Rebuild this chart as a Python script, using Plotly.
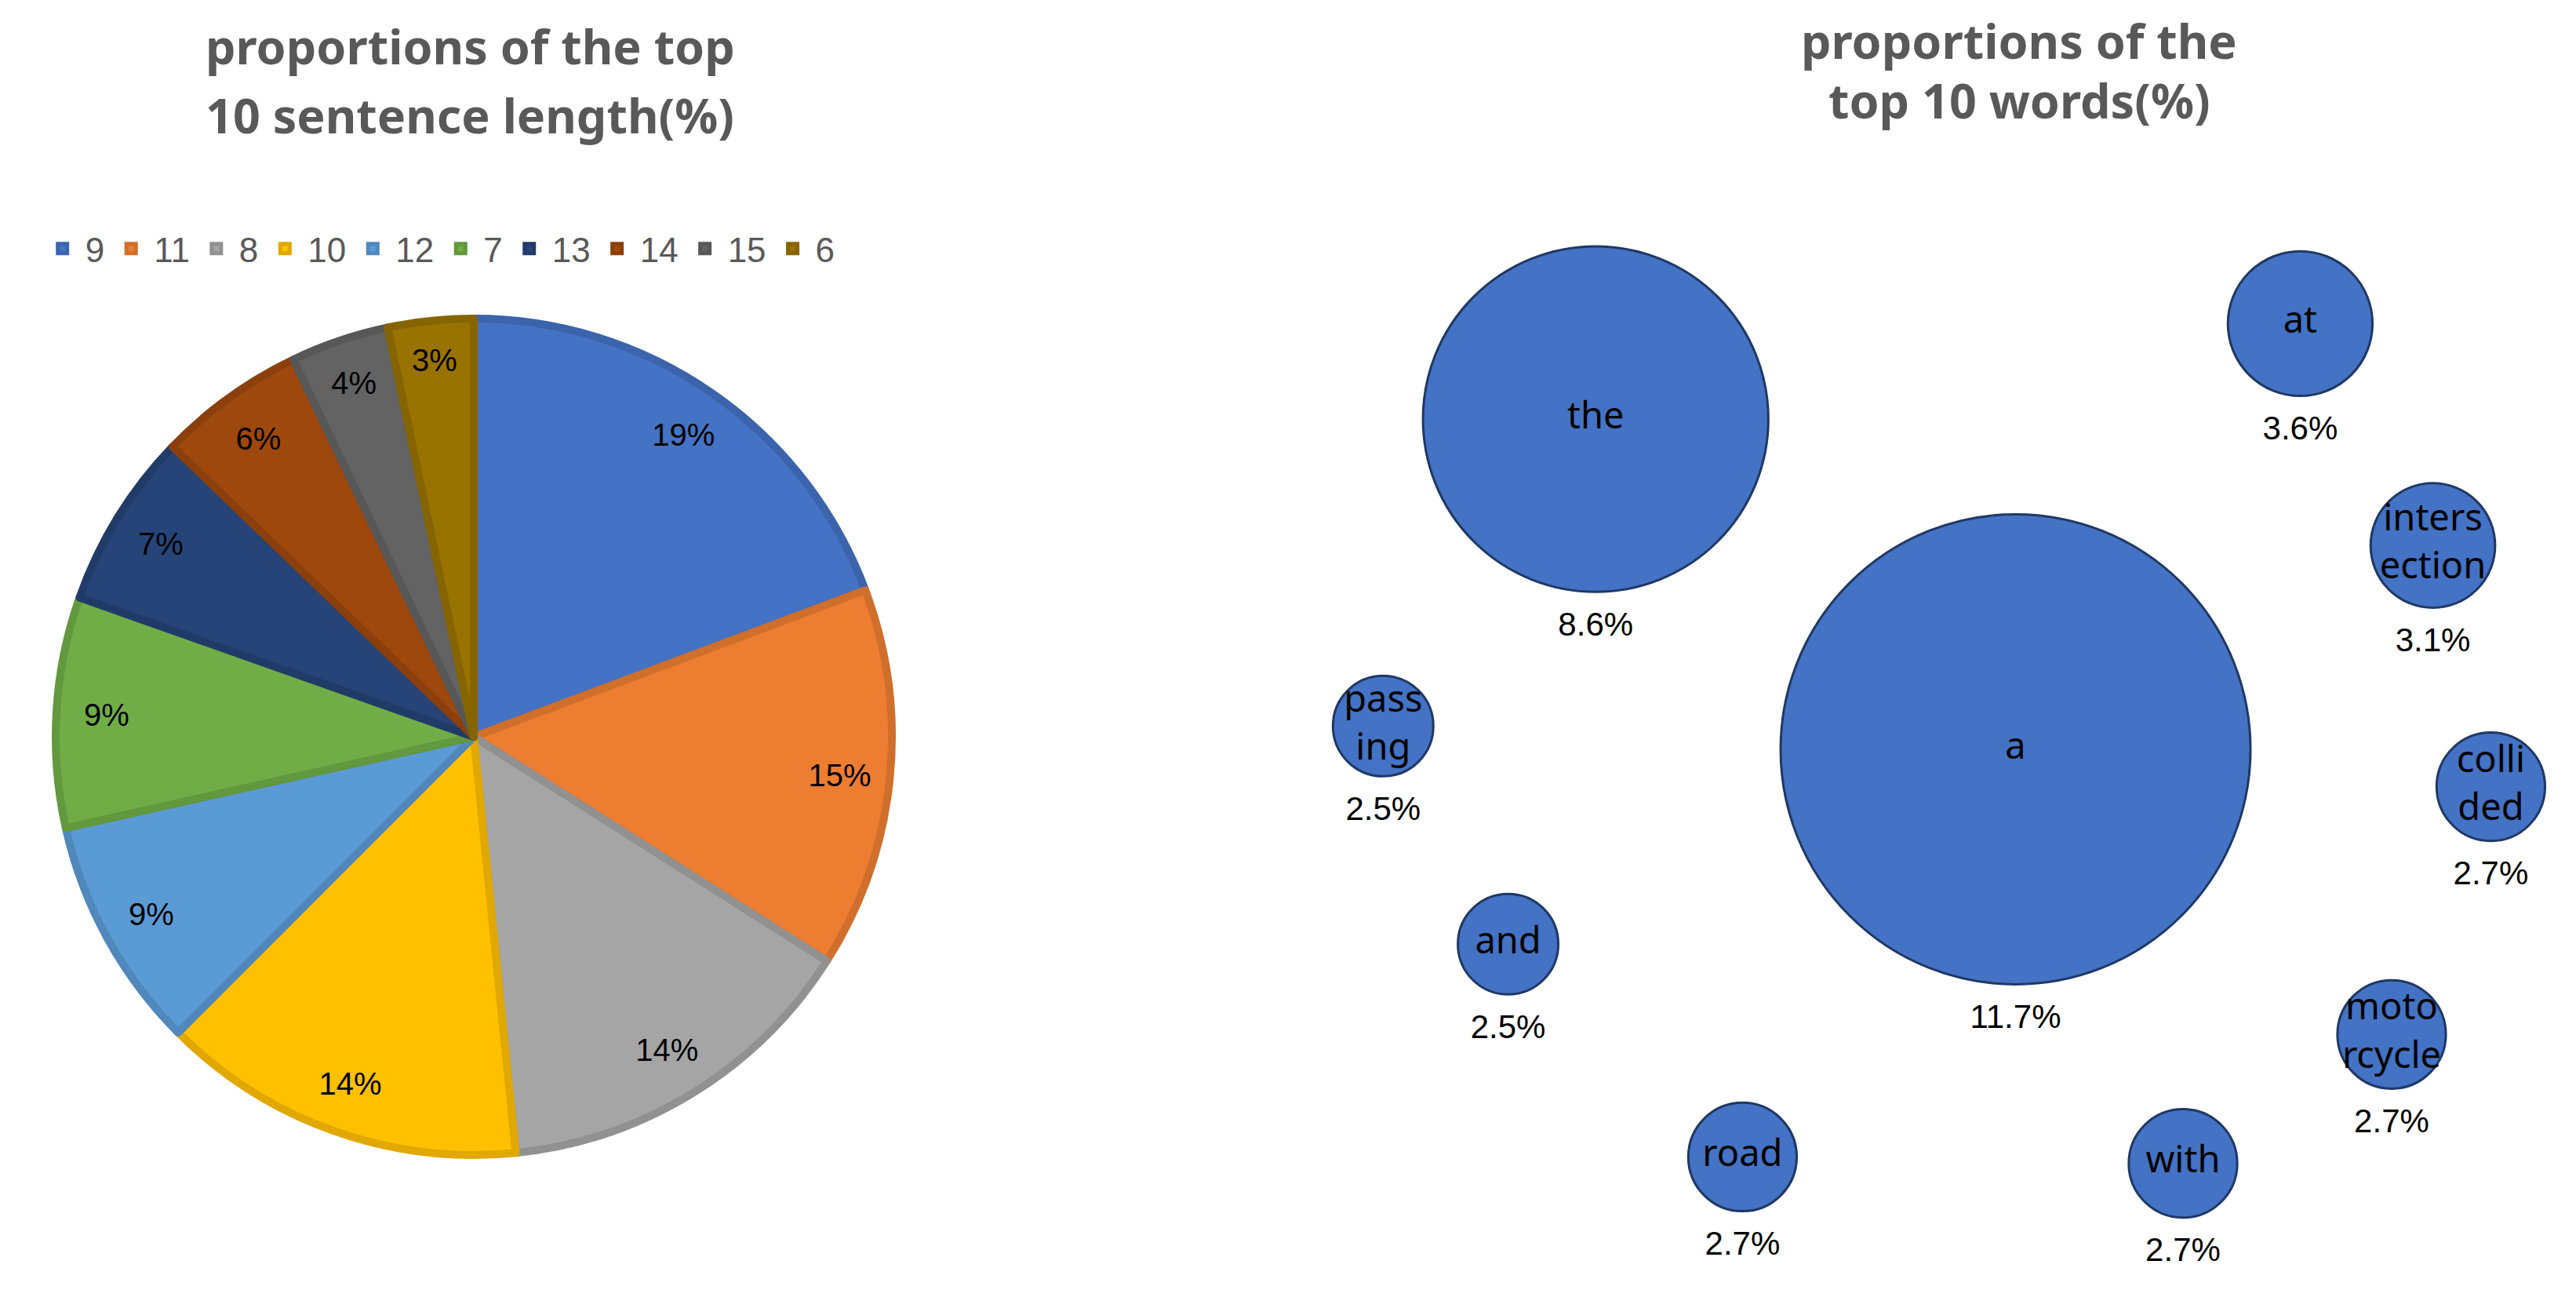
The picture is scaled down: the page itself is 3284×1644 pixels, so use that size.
import plotly.graph_objects as go

# sentence length shares (%)
len_labels = ["9", "11", "8", "10", "12", "7", "13", "14", "15", "6"]
len_share = [19.3, 14.7, 14.4, 14.1, 9.0, 8.9, 6.8, 5.7, 3.8, 3.3]
len_colors = ["#4472C4", "#ED7D31", "#A5A5A5", "#FFC000", "#5B9BD5",
              "#70AD47", "#264478", "#9E480E", "#636363", "#997300"]

# top words (%) and where the bubbles sit
words = ["the", "a", "at", "intersection", "collided", "motorcycle",
         "with", "road", "and", "passing"]
word_text = ["the", "a", "at", "inters<br>ection", "colli<br>ded", "moto<br>rcycle",
             "with", "road", "and", "pass<br>ing"]
word_share = [8.6, 11.7, 3.6, 3.1, 2.7, 2.7, 2.7, 2.7, 2.5, 2.5]
bub_x = [2.34, 5.60, 7.81, 8.84, 9.29, 8.52, 6.90, 3.48, 1.66, 0.69]
bub_y = [6.80, 4.24, 7.54, 5.82, 3.95, 2.03, 1.03, 1.08, 2.73, 4.42]


def darker(hx, f=0.88):
    r, g, b = int(hx[1:3], 16), int(hx[3:5], 16), int(hx[5:7], 16)
    return "#%02x%02x%02x" % (int(r * f), int(g * f), int(b * f))


W, H = 3284, 1644
pie_dom = dict(x=[63 / W, 1129 / W], y=[180 / H, 1246 / H])

fig = go.Figure()

# the slices
fig.add_trace(go.Pie(
    labels=len_labels, values=len_share, sort=False, direction="clockwise",
    marker=dict(colors=len_colors,
                line=dict(color=[darker(c) for c in len_colors], width=10)),
    textinfo="none", domain=pie_dom, hoverinfo="label+percent",
))
# transparent ring on top, only to push the % labels out toward the rim
fig.add_trace(go.Pie(
    labels=len_labels, values=len_share, sort=False, direction="clockwise",
    hole=0.76, marker=dict(colors=["rgba(0,0,0,0)"] * len(len_labels),
                           line=dict(width=0)),
    texttemplate="%{percent:.0%}", textposition="inside",
    insidetextorientation="horizontal",
    textfont=dict(family="Liberation Sans", size=40, color="black"),
    domain=pie_dom, showlegend=False, hoverinfo="skip",
))

sizeref = 11.7 / 599
fig.add_trace(go.Scatter(
    x=bub_x, y=bub_y, mode="markers",
    marker=dict(size=word_share, sizemode="diameter", sizeref=sizeref,
                color="#4472C4", line=dict(color="#1F3864", width=3), opacity=1),
    showlegend=False, cliponaxis=False, hovertext=words,
    xaxis="x", yaxis="y",
))
fig.add_trace(go.Scatter(
    x=bub_x, y=bub_y, mode="text", text=word_text, textposition="middle center",
    textfont=dict(family="Noto Sans", size=47, color="black"),
    showlegend=False, cliponaxis=False, hoverinfo="skip",
    xaxis="x", yaxis="y",
))

# value labels sit a fixed gap under each bubble's rim
px_per_unit = H / 10  # y axis spans the full height (no margins)
gap_px = 45
lab_y = [y - (v / sizeref / 2 + gap_px) / px_per_unit for y, v in zip(bub_y, word_share)]
fig.add_trace(go.Scatter(
    x=bub_x, y=lab_y, mode="text", text=[f"{v}%" for v in word_share],
    textposition="middle center",
    textfont=dict(family="Liberation Sans", size=42, color="black"),
    showlegend=False, cliponaxis=False, hoverinfo="skip",
    xaxis="x", yaxis="y",
))

title_font = dict(family="Noto Sans", size=61, color="#595959", weight="bold")
titles = [
    ("proportions of the top", 0.1800, 22),
    ("10 sentence length(%)", 0.1800, 64),
    ("proportions of the", 0.7815, 19),
    ("top 10 words(%)", 0.7815, 55),
]
disp = W / 1568
annos = [dict(text=t, x=x, y=1 - (yd * disp + 4) / H, xref="paper", yref="paper",
              xanchor="center", yanchor="middle", showarrow=False, font=title_font)
         for t, x, yd in titles]

fig.update_layout(
    width=W, height=H,
    margin=dict(l=0, r=0, t=0, b=0),
    paper_bgcolor="white", plot_bgcolor="white",
    xaxis=dict(domain=[0.5, 1.0], range=[0, 10], visible=False),
    yaxis=dict(domain=[0.0, 1.0], range=[0, 10], visible=False),
    legend=dict(orientation="h", x=0.013, xanchor="left", y=0.812, yanchor="middle",
                font=dict(family="Liberation Sans", size=44, color="#595959"),
                itemwidth=48, itemclick=False),
    uniformtext=dict(minsize=40, mode="show"),
    annotations=annos,
)

fig.write_html("out.html")
